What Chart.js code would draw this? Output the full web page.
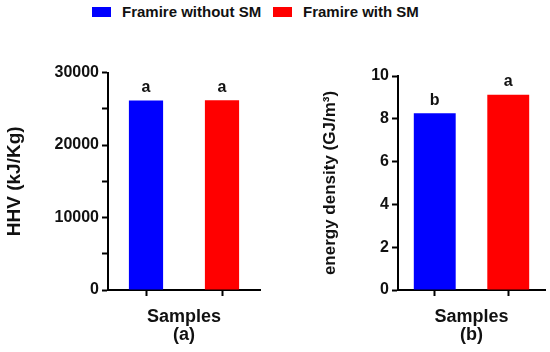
<!DOCTYPE html>
<html>
<head>
<meta charset="utf-8">
<script src="https://cdn.jsdelivr.net/npm/chart.js@4.4.0/dist/chart.umd.min.js"></script>
<style>
  body { margin: 0; background: #fff; width: 550px; height: 352px; position: relative; overflow: hidden; font-family: Arial, 'Liberation Sans', sans-serif; }
  canvas { position: absolute; }
  .legend { position: absolute; top: 3px; font-weight: bold; font-size: 15px; color: #111; }
  .legend span.box { display: inline-block; width: 19px; height: 10px; vertical-align: middle; margin-right: 11px; position: relative; top: -1px; }
</style>
</head>
<body>
<div class="legend" style="left:92px"><span class="box" style="background:#0000ff"></span>Framire without SM</div>
<div class="legend" style="left:273px"><span class="box" style="background:#ff0000"></span>Framire with SM</div>
<canvas id="hhvChart" width="265" height="292" style="left:0;top:60px"></canvas>
<canvas id="densityChart" width="260" height="292" style="left:290px;top:60px"></canvas>
<script>
const samples = ['Framire without SM', 'Framire with SM'];
const barColors = ['#0000ff', '#ff0000'];
const hhv = [26150, 26180];
const hhvLetters = ['a', 'a'];
const energyDensity = [8.26, 9.12];
const densityLetters = ['b', 'a'];

const fontFamily = "Arial, 'Liberation Sans', sans-serif";

// letters of significance above each bar
const letterPlugin = {
    id: 'letters',
    afterDatasetsDraw(chart, args, opts) {
        const c = chart.ctx;
        const meta = chart.getDatasetMeta(0);
        c.save();
        c.font = 'bold 16px ' + fontFamily;
        c.fillStyle = '#111';
        c.textAlign = 'center';
        c.textBaseline = 'bottom';
        meta.data.forEach((bar, i) => {
            c.fillText(opts.labels[i], bar.x, bar.y - 5);
        });
        c.restore();
    }
};

function makeChart(id, values, letters, yMax, yStep, majorStep, yTitle, yTitleSize, yTitlePad, xTitle, barPct, padTop) {
    return new Chart(document.getElementById(id), {
        type: 'bar',
        data: {
            labels: samples,
            datasets: [{
                data: values,
                backgroundColor: barColors,
                borderWidth: 0,
                barPercentage: 1,
                categoryPercentage: barPct
            }]
        },
        options: {
            responsive: false,
            animation: false,
            devicePixelRatio: 1,
            layout: { padding: { top: padTop, right: 5, bottom: 0, left: 0 } },
            plugins: {
                legend: { display: false },
                tooltip: { enabled: false },
                letters: { labels: letters }
            },
            scales: {
                x: {
                    grid: { display: true, offset: false, drawOnChartArea: false, drawTicks: true, tickLength: 6, tickColor: '#000', tickWidth: 2 },
                    border: { display: true, color: '#000', width: 2 },
                    ticks: { display: false },
                    title: { display: true, text: xTitle, color: '#111', font: { family: fontFamily, size: 18, weight: 'bold', lineHeight: 1 }, padding: { top: 0, bottom: 8 } },
                    afterFit: s => { s.height = 62; }
                },
                y: {
                    min: 0,
                    max: yMax,
                    grid: { display: true, drawOnChartArea: false, drawTicks: true, tickLength: 6, tickColor: '#000', tickWidth: 2 },
                    border: { display: true, color: '#000', width: 2 },
                    ticks: {
                        stepSize: yStep,
                        color: '#111',
                        padding: 3,
                        font: { family: fontFamily, size: 16, weight: 'bold' },
                        callback: v => (v % majorStep === 0 ? v : '')
                    },
                    title: { display: true, text: yTitle, color: '#111', font: { family: fontFamily, size: yTitleSize, weight: 'bold', lineHeight: 1.2 }, padding: { top: yTitlePad, bottom: 0 } },
                    afterFit: s => { s.width = 108; }
                }
            }
        },
        plugins: [letterPlugin]
    });
}

makeChart('hhvChart', hhv, hhvLetters, 30000, 5000, 10000, 'HHV (kJ/Kg)', 19, 3, ['Samples', '(a)'], 0.45, 10);
makeChart('densityChart', energyDensity, densityLetters, 10, 1, 2, 'energy density (GJ/m\u00b3)', 17, 30, ['Samples', '(b)'], 0.57, 16);
</script>
</body>
</html>
